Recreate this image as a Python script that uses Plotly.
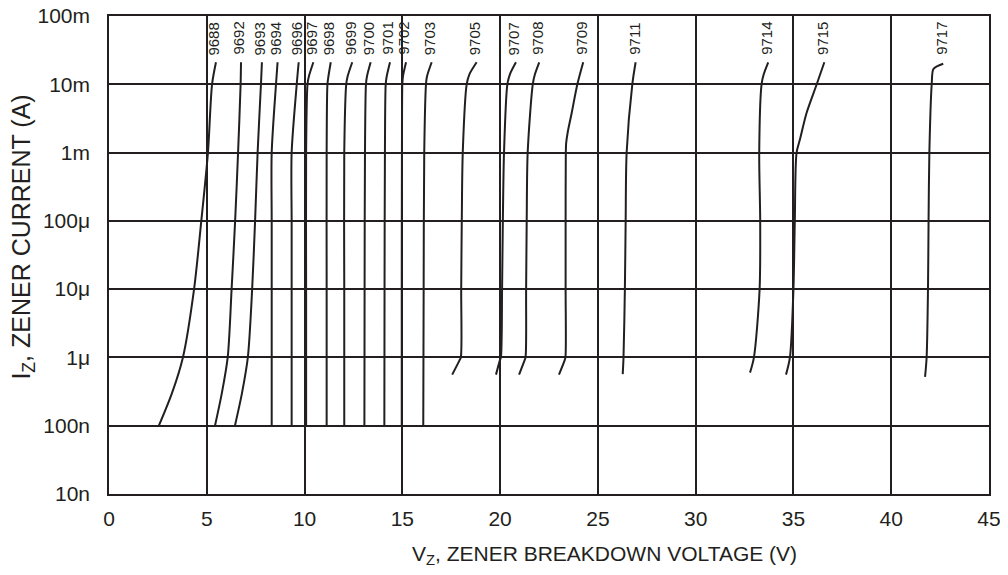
import math
import plotly.graph_objects as go

# ---- data (V in volts, I in amperes) ----
parts = ["9688", "9692", "9693", "9694", "9696", "9697", "9698", "9699", "9700",
         "9701", "9702", "9703", "9705", "9707", "9708", "9709", "9711", "9714",
         "9715", "9717"]

i_9688 = [1e-7, 3e-7, 1e-6, 1e-5, 1e-4, 1e-3, 1e-2, 2.1e-2]
v_9688 = [2.55, 3.22, 3.78, 4.35, 4.72, 5.06, 5.27, 5.47]

i_9692 = [1e-7, 3e-7, 1e-6, 1e-5, 1e-4, 1e-3, 1e-2, 2.1e-2]
v_9692 = [5.42, 5.77, 6.07, 6.27, 6.45, 6.60, 6.73, 6.75]

i_9693 = [1e-7, 3e-7, 1e-6, 1e-5, 1e-4, 1e-3, 1e-2, 2.1e-2]
v_9693 = [6.44, 6.80, 7.10, 7.32, 7.47, 7.60, 7.77, 7.82]

i_9694 = [1e-7, 1e-5, 1e-4, 1e-3, 1e-2, 2.1e-2]
v_9694 = [8.32, 8.32, 8.32, 8.32, 8.54, 8.62]

i_9696 = [1e-7, 1e-5, 1e-4, 1e-3, 1e-2, 2.1e-2]
v_9696 = [9.34, 9.34, 9.34, 9.34, 9.60, 9.70]

i_9697 = [1e-7, 1e-5, 1e-3, 1e-2, 1.3e-2, 2.1e-2]
v_9697 = [10.08, 10.08, 10.08, 10.15, 10.22, 10.45]

i_9698 = [1e-7, 1e-5, 1e-3, 1e-2, 1.3e-2, 2.1e-2]
v_9698 = [11.13, 11.13, 11.13, 11.17, 11.22, 11.34]

i_9699 = [1e-7, 1e-5, 1e-3, 1e-2, 1.3e-2, 2.1e-2]
v_9699 = [12.03, 12.03, 12.03, 12.13, 12.20, 12.44]

i_9700 = [1e-7, 1e-5, 1e-3, 1e-2, 1.3e-2, 2.1e-2]
v_9700 = [13.06, 13.07, 13.09, 13.14, 13.19, 13.38]

i_9701 = [1e-7, 1e-5, 1e-3, 1e-2, 1.3e-2, 2.1e-2]
v_9701 = [14.08, 14.09, 14.11, 14.15, 14.20, 14.37]

i_9702 = [1e-7, 1e-5, 1e-3, 1e-2, 1.3e-2, 2.1e-2]
v_9702 = [14.97, 14.97, 14.98, 15.00, 15.03, 15.19]

i_9703 = [1e-7, 1e-5, 1e-3, 1e-2, 1.3e-2, 2.1e-2]
v_9703 = [16.07, 16.09, 16.12, 16.21, 16.26, 16.50]

i_9705 = [5.6e-7, 8.9e-7, 1e-6, 1e-5, 1e-4, 1e-3, 1e-2, 1.4e-2, 2.1e-2]
v_9705 = [17.55, 17.91, 17.99, 18.01, 18.04, 18.09, 18.29, 18.43, 18.80]

i_9707 = [5.6e-7, 8.9e-7, 1e-6, 1e-5, 1e-4, 1e-3, 1e-2, 1.4e-2, 2.1e-2]
v_9707 = [19.79, 19.98, 20.04, 20.10, 20.14, 20.20, 20.37, 20.50, 20.81]

i_9708 = [5.6e-7, 8.9e-7, 1e-6, 1e-5, 1e-4, 1e-3, 1e-2, 1.4e-2, 2.1e-2]
v_9708 = [20.97, 21.24, 21.30, 21.33, 21.36, 21.41, 21.67, 21.78, 22.00]

i_9709 = [5.6e-7, 8.9e-7, 1e-6, 1e-5, 1e-4, 1e-3, 1.4e-3, 2e-3, 3.8e-3, 1e-2, 2.1e-2]
v_9709 = [23.01, 23.29, 23.34, 23.35, 23.35, 23.36, 23.38, 23.46, 23.66, 23.95, 24.25]

i_9711 = [5.7e-7, 1e-6, 1e-5, 1e-4, 1e-3, 1e-2, 2.1e-2]
v_9711 = [26.27, 26.31, 26.38, 26.42, 26.47, 26.76, 26.93]

i_9714 = [6e-7, 1e-6, 1e-5, 1e-4, 1e-3, 1e-2, 1.4e-2, 2.1e-2]
v_9714 = [32.78, 32.98, 33.27, 33.30, 33.25, 33.37, 33.48, 33.71]

i_9715 = [5.6e-7, 1e-6, 1e-5, 1e-4, 1e-3, 1.55e-3, 3.8e-3, 1e-2, 2.1e-2]
v_9715 = [34.62, 34.82, 35.00, 35.07, 35.16, 35.33, 35.67, 36.19, 36.58]

i_9717 = [5.2e-7, 1e-6, 1e-5, 1e-4, 1e-3, 1e-2, 1.66e-2, 1.86e-2, 2e-2]
v_9717 = [41.73, 41.81, 41.88, 41.91, 41.95, 42.07, 42.15, 42.39, 42.66]

y_tickvals = [1e-8, 1e-7, 1e-6, 1e-5, 1e-4, 1e-3, 1e-2, 1e-1]
y_ticktext = ["10n", "100n", "1\u03bc", "10\u03bc", "100\u03bc", "1m", "10m", "100m"]
x_tickvals = [0, 5, 10, 15, 20, 25, 30, 35, 40, 45]

label_current = 0.025  # current level where part-number labels sit (bottom of text)

series_v = [v_9688, v_9692, v_9693, v_9694, v_9696, v_9697, v_9698, v_9699, v_9700,
            v_9701, v_9702, v_9703, v_9705, v_9707, v_9708, v_9709, v_9711, v_9714,
            v_9715, v_9717]
series_i = [i_9688, i_9692, i_9693, i_9694, i_9696, i_9697, i_9698, i_9699, i_9700,
            i_9701, i_9702, i_9703, i_9705, i_9707, i_9708, i_9709, i_9711, i_9714,
            i_9715, i_9717]

INK = "#231f20"
FONT = "Arial, 'Liberation Sans', sans-serif"

fig = go.Figure()
for name, vs, cs in zip(parts, series_v, series_i):
    fig.add_trace(go.Scatter(
        x=vs, y=cs, mode="lines", name=name,
        line=dict(color=INK, width=2, shape="spline", smoothing=0.8),
        showlegend=False, hoverinfo="skip"))
    fig.add_annotation(
        x=vs[-1], y=math.log10(label_current), xref="x", yref="y",
        text=name, showarrow=False, textangle=-90,
        xanchor="center", yanchor="bottom", xshift=-2,
        font=dict(family=FONT, size=15, color=INK))

# axis titles
fig.add_annotation(
    x=0.5625, y=-0.128, xref="paper", yref="paper",
    text="V<sub>Z</sub>, ZENER BREAKDOWN VOLTAGE (V)", showarrow=False,
    xanchor="center", yanchor="middle",
    font=dict(family=FONT, size=21, color=INK))
fig.add_annotation(
    x=-0.098, y=0.538, xref="paper", yref="paper",
    text="I<sub>Z</sub>, ZENER CURRENT (A)", showarrow=False, textangle=-90,
    xanchor="center", yanchor="middle",
    font=dict(family=FONT, size=25, color=INK))

# the page body adds an 8px offset, so margins are shifted to compensate
fig.update_layout(
    width=1008, height=575,
    margin=dict(l=101, r=27, t=8, b=89, autoexpand=False),
    paper_bgcolor="white", plot_bgcolor="white",
    font=dict(family=FONT, size=21, color=INK),
    xaxis=dict(
        range=[0, 45], tickvals=x_tickvals, ticks="", showgrid=True,
        gridcolor=INK, gridwidth=1.5, zeroline=False, automargin=False,
        showline=True, linecolor=INK, linewidth=1.5, mirror=True,
        ticklabeloverflow="allow",
        ticklabelstandoff=5, tickfont=dict(family=FONT, size=21, color=INK)),
    yaxis=dict(
        type="log", range=[-8, -1], tickvals=y_tickvals, ticktext=y_ticktext,
        ticks="", showgrid=True, gridcolor=INK, gridwidth=1.5, zeroline=False,
        automargin=False, ticklabeloverflow="allow",
        showline=True, linecolor=INK, linewidth=1.5, mirror=True,
        ticklabelstandoff=13, tickfont=dict(family=FONT, size=21, color=INK)),
)

fig.write_html("out.html")
